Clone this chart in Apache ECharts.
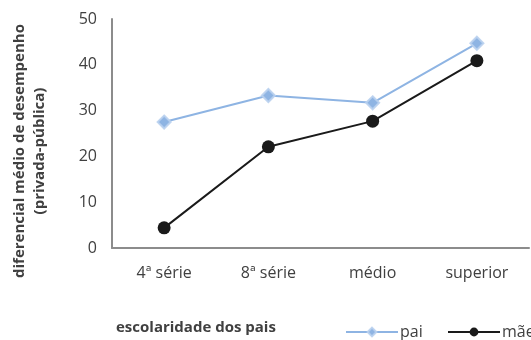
<!DOCTYPE html>
<html>
<head>
<meta charset="utf-8">
<script src="https://cdn.jsdelivr.net/npm/echarts@6/dist/echarts.min.js"></script>
<style>
  html, body { margin: 0; padding: 0; background: #fff; }
  #chart { width: 531px; height: 340px; }
</style>
</head>
<body>
<div id="chart"></div>
<script>
// Escolaridade dos pais (categorias do eixo X)
const categories = ['4ª série', '8ª série', 'médio', 'superior'];
// Diferencial médio de desempenho (privada-pública) por escolaridade do pai
const paiValues = [27.5, 33.3, 31.7, 44.7];
// Diferencial médio de desempenho (privada-pública) por escolaridade da mãe
const maeValues = [4.4, 22.1, 27.7, 40.9];
const yTicks = { min: 0, max: 50, interval: 10 };

const FONT = '"Open Sans", "Noto Sans", sans-serif';
const TEXT = '#404040';
const chart = echarts.init(document.getElementById('chart'), null, { renderer: 'canvas' });

const legendCommon = {
  top: 319,
  itemWidth: 52,
  itemHeight: 11,
  textStyle: { color: TEXT, fontSize: 16, fontFamily: FONT, padding: [0, 0, 0, -3] }
};

chart.setOption({
  animation: false,
  backgroundColor: '#ffffff',
  textStyle: { fontFamily: FONT },
  grid: { left: 112, right: 2, top: 19, bottom: 92, containLabel: false },
  xAxis: {
    type: 'category',
    data: categories,
    boundaryGap: true,
    axisLine: { lineStyle: { color: '#8c8c8c', width: 2 } },
    axisTick: { show: false },
    axisLabel: { color: TEXT, fontSize: 16, margin: 17, fontFamily: FONT },
    splitLine: { show: false }
  },
  yAxis: {
    type: 'value',
    min: yTicks.min, max: yTicks.max, interval: yTicks.interval,
    axisLine: { show: true, lineStyle: { color: '#8c8c8c', width: 2 } },
    axisTick: { show: false },
    axisLabel: { color: TEXT, fontSize: 16, margin: 15, fontFamily: FONT },
    splitLine: { show: false }
  },
  legend: [
    Object.assign({ data: ['pai'], left: 340 }, legendCommon),
    Object.assign({ data: ['mãe'], left: 442 }, legendCommon)
  ],
  graphic: [
    {
      type: 'text',
      x: 30, y: 151,
      rotation: Math.PI / 2,
      style: {
        text: 'diferencial médio de desempenho\n(privada-pública)',
        font: 'bold 15px ' + FONT,
        fill: TEXT,
        align: 'center',
        verticalAlign: 'middle',
        lineHeight: 20
      }
    },
    {
      type: 'text',
      left: 116, top: 320,
      style: {
        text: 'escolaridade dos pais',
        font: 'bold 15px ' + FONT,
        fill: TEXT
      }
    }
  ],
  series: [
    {
      name: 'pai',
      type: 'line',
      data: paiValues,
      symbol: 'diamond',
      symbolSize: 13,
      lineStyle: { color: '#8eb4e3', width: 2 },
      itemStyle: { color: '#8eb4e3', borderColor: 'rgba(185,208,238,0.9)', borderWidth: 2 },
      z: 3
    },
    {
      name: 'mãe',
      type: 'line',
      data: maeValues,
      symbol: 'circle',
      symbolSize: 13,
      lineStyle: { color: '#1a1a1a', width: 2 },
      itemStyle: { color: '#1a1a1a' },
      z: 2
    }
  ]
});
</script>
</body>
</html>
